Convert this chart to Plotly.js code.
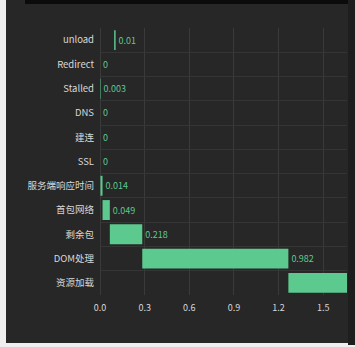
<!DOCTYPE html>
<html>
<head>
<meta charset="utf-8">
<script src="https://cdn.plot.ly/plotly-3.0.1.min.js"></script>
<style>
  html, body { margin:0; padding:0; width:355px; height:347px; overflow:hidden; background:#efefef; }
  #panel { position:absolute; left:6px; top:0; width:342px; height:343px; background:#272727; }
  #topband { position:absolute; left:25px; top:0; width:323px; height:4px; background:#0b0b0b; }
  #rstrip { position:absolute; left:348px; top:0; width:7px; height:345px; background:#1e1e1e; }
  #chart { position:absolute; left:0; top:0; width:355px; height:347px; }
</style>
</head>
<body>
<div id="panel"></div>
<div id="topband"></div>
<div id="rstrip"></div>
<div id="chart"></div>
<script>
const categories = ["unload", "Redirect", "Stalled", "DNS", "建连", "SSL", "服务端响应时间", "首包网络", "剩余包", "DOM处理", "资源加载"];
const durations  = [0.01, 0, 0.003, 0, 0, 0, 0.014, 0.049, 0.218, 0.982, 0.6];
const starts     = [0.095, 0, 0, 0, 0, 0, 0.003, 0.017, 0.066, 0.284, 1.266];
const xTicks     = [0, 0.3, 0.6, 0.9, 1.2, 1.5];

const font = "'Noto Sans CJK SC', 'Noto Sans', sans-serif";
// the last bar's value label lies beyond the visible axis range in the reference
const textPos = durations.map((d, i) => i === durations.length - 1 ? 'none' : 'outside');

Plotly.newPlot('chart', [{
  type: 'bar',
  orientation: 'h',
  y: categories,
  x: durations,
  base: starts,
  text: durations.map(String),
  textposition: textPos,
  cliponaxis: true,
  textfont: { color: '#5cc98f', size: 9, family: font },
  marker: { color: '#5cc98f', line: { width: 0 } },
  hoverinfo: 'none'
}], {
  width: 355, height: 347,
  margin: { l: 100, r: 8, t: 28, b: 52, pad: 0 },
  paper_bgcolor: 'rgba(0,0,0,0)',
  plot_bgcolor: 'rgba(0,0,0,0)',
  bargap: 0.18,
  showlegend: false,
  font: { family: font, color: '#d8d8d8', size: 9 },
  xaxis: {
    range: [0, 1.66],
    tickvals: xTicks,
    ticktext: xTicks.map(v => v.toFixed(1)),
    showgrid: true, gridcolor: '#3a3a3a', gridwidth: 1,
    zeroline: true, zerolinecolor: '#3a3a3a',
    showline: false, ticks: '',
    tickfont: { size: 9, color: '#d8d8d8', family: font },
    ticklabelstandoff: 6
  },
  yaxis: {
    type: 'category',
    autorange: 'reversed',
    tickson: 'boundaries',
    showgrid: true, gridcolor: '#353535', gridwidth: 1,
    showline: false, ticks: '',
    tickfont: { size: 9.5, color: '#d8d8d8', family: font },
    ticklabelstandoff: 5
  }
}, { staticPlot: true, displayModeBar: false });
</script>
</body>
</html>
